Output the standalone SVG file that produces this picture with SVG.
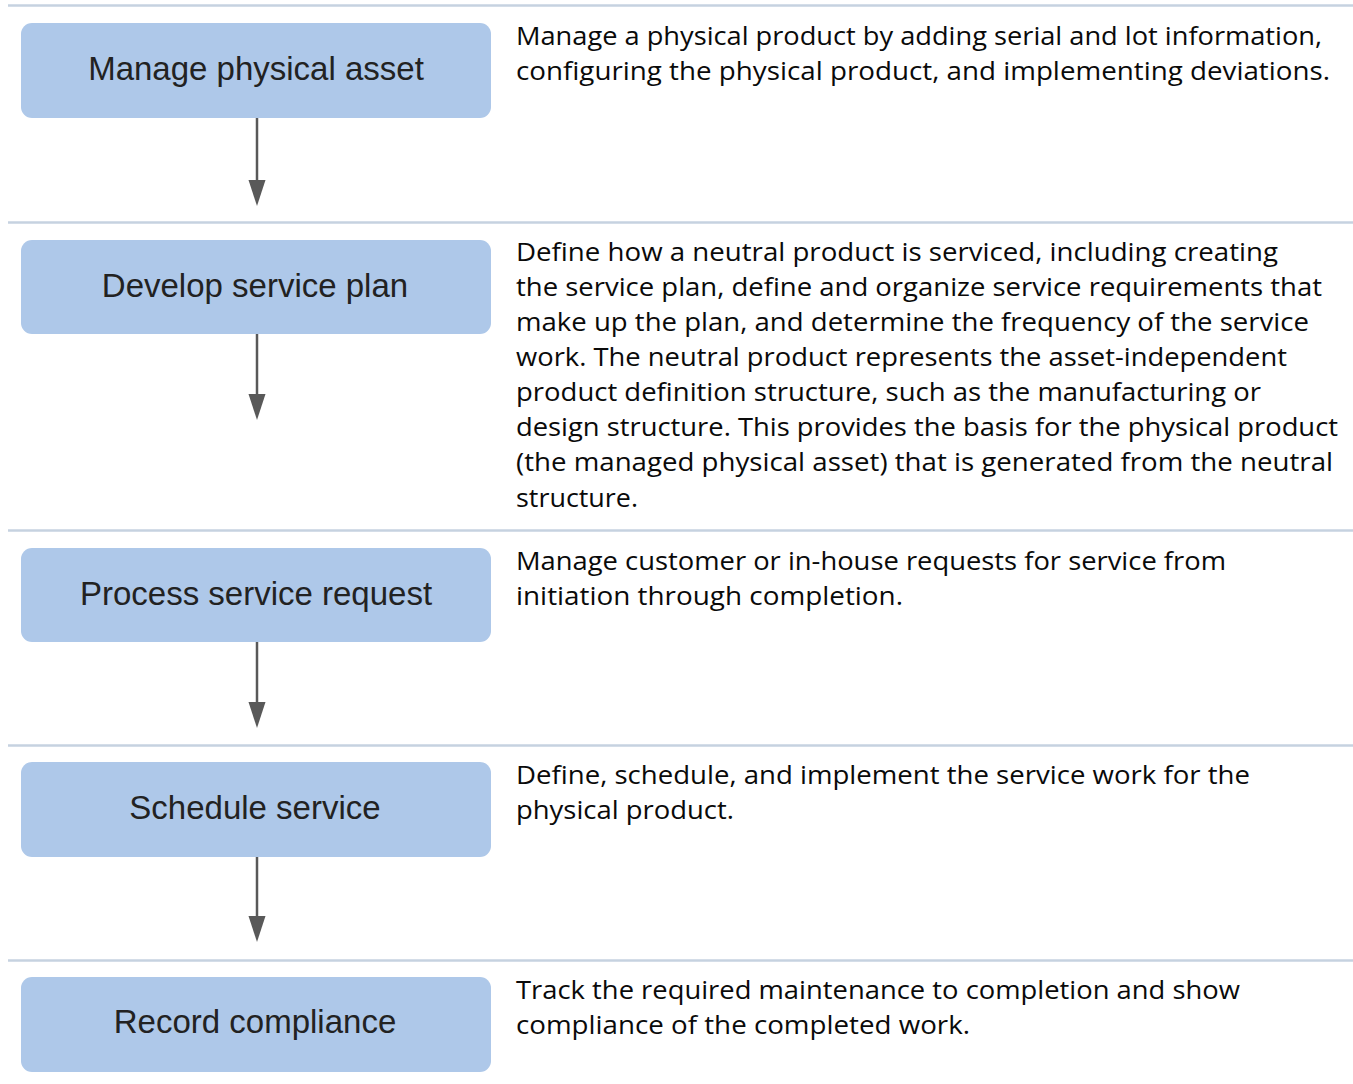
<svg xmlns="http://www.w3.org/2000/svg" width="1353" height="1084" viewBox="0 0 1353 1084">
<style>
.sep{stroke:#c6d2e0;stroke-width:2.5;fill:none}
.box{fill:#aec8e9}
.lbl{font-family:"Liberation Sans",Arial,sans-serif;font-size:33px;fill:#222;text-anchor:middle}
.desc{font-family:"Open Sans","Noto Sans",sans-serif;font-size:26px;fill:#0a0a0a}
.conn{stroke:#595959;stroke-width:2.5;fill:none}
.head{fill:#595959}
</style>
<rect width="1353" height="1084" fill="#fff"/>
<g id="separators">
<line class="sep" x1="8" y1="5.5" x2="1353" y2="5.5"/>
<line class="sep" x1="8" y1="222.5" x2="1353" y2="222.5"/>
<line class="sep" x1="8" y1="530.5" x2="1353" y2="530.5"/>
<line class="sep" x1="8" y1="745.5" x2="1353" y2="745.5"/>
<line class="sep" x1="8" y1="960.5" x2="1353" y2="960.5"/>
</g>
<g id="connectors">
<line class="conn" x1="257" y1="118" x2="257" y2="182"/>
<polygon class="head" points="248.5,180 265.5,180 257,206"/>
<line class="conn" x1="257" y1="334" x2="257" y2="396"/>
<polygon class="head" points="248.5,394 265.5,394 257,420"/>
<line class="conn" x1="257" y1="642" x2="257" y2="704"/>
<polygon class="head" points="248.5,702 265.5,702 257,728"/>
<line class="conn" x1="257" y1="857" x2="257" y2="918"/>
<polygon class="head" points="248.5,916 265.5,916 257,942"/>
</g>
<g id="n1">
<rect class="box" x="21" y="23" width="470" height="95" rx="11"/>
<text class="lbl" x="256" y="80">Manage physical asset</text>
<text class="desc" x="516" y="45" textLength="806" lengthAdjust="spacingAndGlyphs">Manage a physical product by adding serial and lot information,</text>
<text class="desc" x="516" y="80" textLength="814" lengthAdjust="spacingAndGlyphs">configuring the physical product, and implementing deviations.</text>
</g>
<g id="n2">
<rect class="box" x="21" y="240" width="470" height="94" rx="11"/>
<text class="lbl" x="255" y="297">Develop service plan</text>
<text class="desc" x="516" y="261" textLength="762" lengthAdjust="spacingAndGlyphs">Define how a neutral product is serviced, including creating</text>
<text class="desc" x="516" y="296" textLength="806" lengthAdjust="spacingAndGlyphs">the service plan, define and organize service requirements that</text>
<text class="desc" x="516" y="331" textLength="793" lengthAdjust="spacingAndGlyphs">make up the plan, and determine the frequency of the service</text>
<text class="desc" x="516" y="366" textLength="771" lengthAdjust="spacingAndGlyphs">work. The neutral product represents the asset-independent</text>
<text class="desc" x="516" y="401" textLength="745" lengthAdjust="spacingAndGlyphs">product definition structure, such as the manufacturing or</text>
<text class="desc" x="516" y="436" textLength="822" lengthAdjust="spacingAndGlyphs">design structure. This provides the basis for the physical product</text>
<text class="desc" x="516" y="471" textLength="817" lengthAdjust="spacingAndGlyphs">(the managed physical asset) that is generated from the neutral</text>
<text class="desc" x="516" y="507" textLength="122" lengthAdjust="spacingAndGlyphs">structure.</text>
</g>
<g id="n3">
<rect class="box" x="21" y="548" width="470" height="94" rx="11"/>
<text class="lbl" x="256" y="605">Process service request</text>
<text class="desc" x="516" y="570" textLength="710" lengthAdjust="spacingAndGlyphs">Manage customer or in-house requests for service from</text>
<text class="desc" x="516" y="605" textLength="387" lengthAdjust="spacingAndGlyphs">initiation through completion.</text>
</g>
<g id="n4">
<rect class="box" x="21" y="762" width="470" height="95" rx="11"/>
<text class="lbl" x="255" y="819">Schedule service</text>
<text class="desc" x="516" y="784" textLength="734" lengthAdjust="spacingAndGlyphs">Define, schedule, and implement the service work for the</text>
<text class="desc" x="516" y="819" textLength="218" lengthAdjust="spacingAndGlyphs">physical product.</text>
</g>
<g id="n5">
<rect class="box" x="21" y="977" width="470" height="95" rx="11"/>
<text class="lbl" x="255" y="1033">Record compliance</text>
<text class="desc" x="516" y="999" textLength="724" lengthAdjust="spacingAndGlyphs">Track the required maintenance to completion and show</text>
<text class="desc" x="516" y="1034" textLength="454" lengthAdjust="spacingAndGlyphs">compliance of the completed work.</text>
</g>
</svg>
